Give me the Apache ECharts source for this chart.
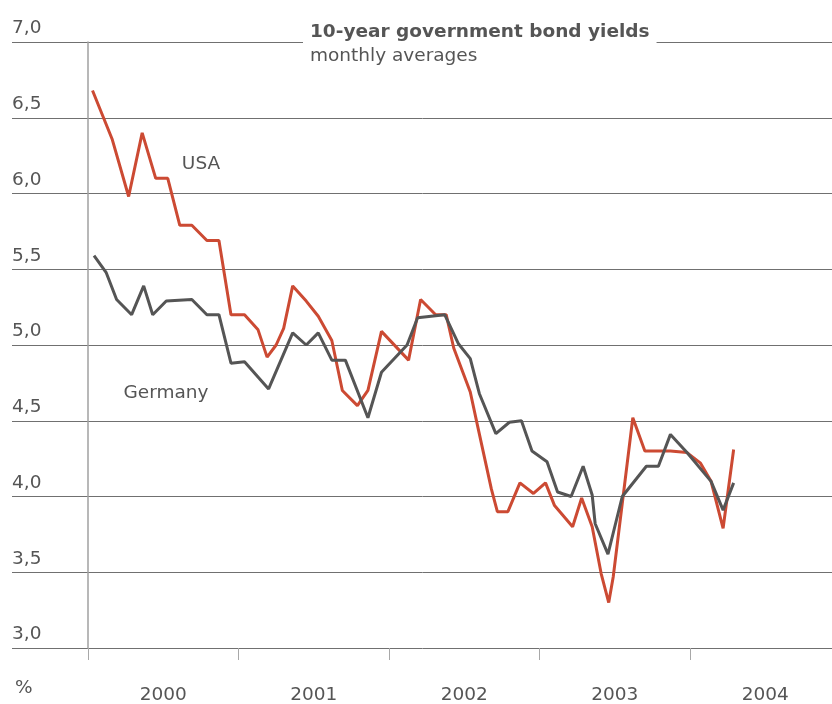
<!DOCTYPE html>
<html>
<head>
<meta charset="utf-8">
<script src="https://cdn.jsdelivr.net/npm/echarts@6/dist/echarts.min.js"></script>
<style>
  html, body { margin: 0; padding: 0; background: #fff; }
  #chart { width: 832px; height: 704px; }
</style>
</head>
<body>
<div id="chart"></div>
<script>
// Observation dates as decimal years, with the matching yields in percent
const usaDates = [2000.03, 2000.16, 2000.27, 2000.36, 2000.45, 2000.53, 2000.61, 2000.69, 2000.79, 2000.87,
  2000.95, 2001.04, 2001.13, 2001.19, 2001.25, 2001.30, 2001.36, 2001.45, 2001.53, 2001.62,
  2001.69, 2001.79, 2001.86, 2001.95, 2002.13, 2002.21, 2002.31, 2002.38, 2002.43, 2002.54,
  2002.59, 2002.68, 2002.72, 2002.79, 2002.87, 2002.96, 2003.04, 2003.10, 2003.22, 2003.28,
  2003.35, 2003.41, 2003.46, 2003.49, 2003.62, 2003.70, 2003.79, 2003.87, 2003.98, 2004.07,
  2004.14, 2004.22, 2004.29];
const usaYields = [6.68, 6.36, 5.98, 6.40, 6.10, 6.10, 5.79, 5.79, 5.69, 5.69,
  5.20, 5.20, 5.10, 4.92, 5.00, 5.11, 5.39, 5.29, 5.19, 5.03,
  4.70, 4.60, 4.70, 5.09, 4.90, 5.30, 5.20, 5.20, 4.98, 4.69,
  4.46, 4.05, 3.90, 3.90, 4.09, 4.02, 4.09, 3.94, 3.80, 3.99,
  3.80, 3.49, 3.30, 3.47, 4.52, 4.30, 4.30, 4.30, 4.29, 4.22,
  4.10, 3.79, 4.31];

const gerDates = [2000.04, 2000.12, 2000.19, 2000.29, 2000.37, 2000.43, 2000.52, 2000.69, 2000.79, 2000.87,
  2000.95, 2001.04, 2001.20, 2001.36, 2001.45, 2001.53, 2001.62, 2001.71, 2001.86, 2001.95,
  2002.12, 2002.19, 2002.37, 2002.46, 2002.54, 2002.60, 2002.71, 2002.80, 2002.88, 2002.95,
  2003.05, 2003.12, 2003.21, 2003.29, 2003.35, 2003.37, 2003.455, 2003.55, 2003.71, 2003.79,
  2003.87, 2003.98, 2004.14, 2004.22, 2004.29];
const gerYields = [5.59, 5.48, 5.30, 5.20, 5.39, 5.20, 5.29, 5.30, 5.20, 5.20,
  4.88, 4.89, 4.71, 5.08, 5.00, 5.08, 4.90, 4.90, 4.52, 4.82,
  5.00, 5.18, 5.20, 5.01, 4.91, 4.68, 4.415, 4.49, 4.50, 4.30,
  4.23, 4.03, 4.00, 4.20, 4.01, 3.82, 3.62, 4.00, 4.20, 4.20,
  4.41, 4.29, 4.10, 3.91, 4.09];

const yearLabels = ['2000', '2001', '2002', '2003', '2004'];
const yMin = 3, yMax = 7, yStep = 0.5;

const FONT = '"DejaVu Sans", Verdana, sans-serif';
const TEXT = '#555555';
const FS = 18.5;

const zip = (xs, ys) => xs.map((x, i) => [x, ys[i]]);

const chart = echarts.init(document.getElementById('chart'), null, { renderer: 'canvas' });

chart.setOption({
  animation: false,
  backgroundColor: '#ffffff',
  textStyle: { fontFamily: FONT },
  title: {
    text: '10-year government bond yields',
    subtext: 'monthly averages',
    left: 303,
    top: 20,
    padding: [1, 7, 2, 7],
    itemGap: 2,
    backgroundColor: '#ffffff',
    textStyle: { fontFamily: FONT, fontSize: FS, fontWeight: 'bold', color: TEXT, lineHeight: 22 },
    subtextStyle: { fontFamily: FONT, fontSize: FS, color: TEXT, lineHeight: 22 }
  },
  grid: [
    // full-width grid carrying the horizontal rules and value labels
    { left: 12, width: 828.5, top: 42, bottom: 56, outerBoundsMode: 'none', containLabel: false },
    // plotting area starting at the vertical axis; 2005 falls just past the right edge
    { left: 88, width: 752.5, top: 42, bottom: 56, outerBoundsMode: 'none', containLabel: false }
  ],
  xAxis: [
    {
      gridIndex: 1, type: 'value', position: 'bottom', min: 2000, max: 2005, interval: 1,
      axisLine: { show: false },
      axisTick: { show: true, length: 12, lineStyle: { color: '#a8a8a8', width: 1 } },
      axisLabel: { show: false },
      splitLine: { show: false }
    },
    {
      gridIndex: 1, type: 'value', position: 'bottom', offset: 0, min: 2000, max: 2005, interval: 0.5,
      axisLine: { show: false },
      axisTick: { show: false },
      splitLine: { show: false },
      axisLabel: {
        show: true, margin: 38, fontFamily: FONT, fontSize: FS, color: TEXT,
        formatter: v => {
          const i = Math.floor(v) - 2000;
          return (Math.abs(v - Math.floor(v) - 0.5) < 1e-6 && yearLabels[i]) ? yearLabels[i] : '';
        }
      }
    },
    { gridIndex: 0, type: 'value', min: 0, max: 1, show: false }
  ],
  yAxis: [
    {
      gridIndex: 0, type: 'value', min: yMin, max: yMax, interval: yStep,
      axisLine: { show: false },
      axisTick: { show: false },
      splitLine: { show: true, lineStyle: { color: '#707070', width: 1 } },
      axisLabel: {
        inside: true, margin: 0, verticalAlign: 'bottom', padding: [0, 0, 4, 0],
        fontFamily: FONT, fontSize: FS, color: TEXT,
        formatter: v => v.toFixed(1).replace('.', ',')
      }
    },
    {
      gridIndex: 1, type: 'value', min: yMin, max: yMax, interval: yStep,
      axisLine: { show: true, lineStyle: { color: '#a0a0a0', width: 1.5 } },
      axisTick: { show: false },
      axisLabel: { show: false },
      splitLine: { show: false }
    }
  ],
  graphic: [
    { type: 'text', x: 201, y: 164, style: { text: 'USA', font: FS + 'px ' + FONT, fill: TEXT, textAlign: 'center', textVerticalAlign: 'middle' } },
    { type: 'text', x: 166, y: 393, style: { text: 'Germany', font: FS + 'px ' + FONT, fill: TEXT, textAlign: 'center', textVerticalAlign: 'middle' } },
    { type: 'text', x: 15, y: 688, style: { text: '%', font: FS + 'px ' + FONT, fill: TEXT, textAlign: 'left', textVerticalAlign: 'middle' } }
  ],
  series: [
    {
      name: 'USA', type: 'line', xAxisIndex: 0, yAxisIndex: 1,
      data: zip(usaDates, usaYields),
      symbol: 'none', smooth: false,
      lineStyle: { color: '#cc4a33', width: 3 }
    },
    {
      name: 'Germany', type: 'line', xAxisIndex: 0, yAxisIndex: 1,
      data: zip(gerDates, gerYields),
      symbol: 'none', smooth: false,
      lineStyle: { color: '#555555', width: 3 }
    }
  ]
});
</script>
</body>
</html>
